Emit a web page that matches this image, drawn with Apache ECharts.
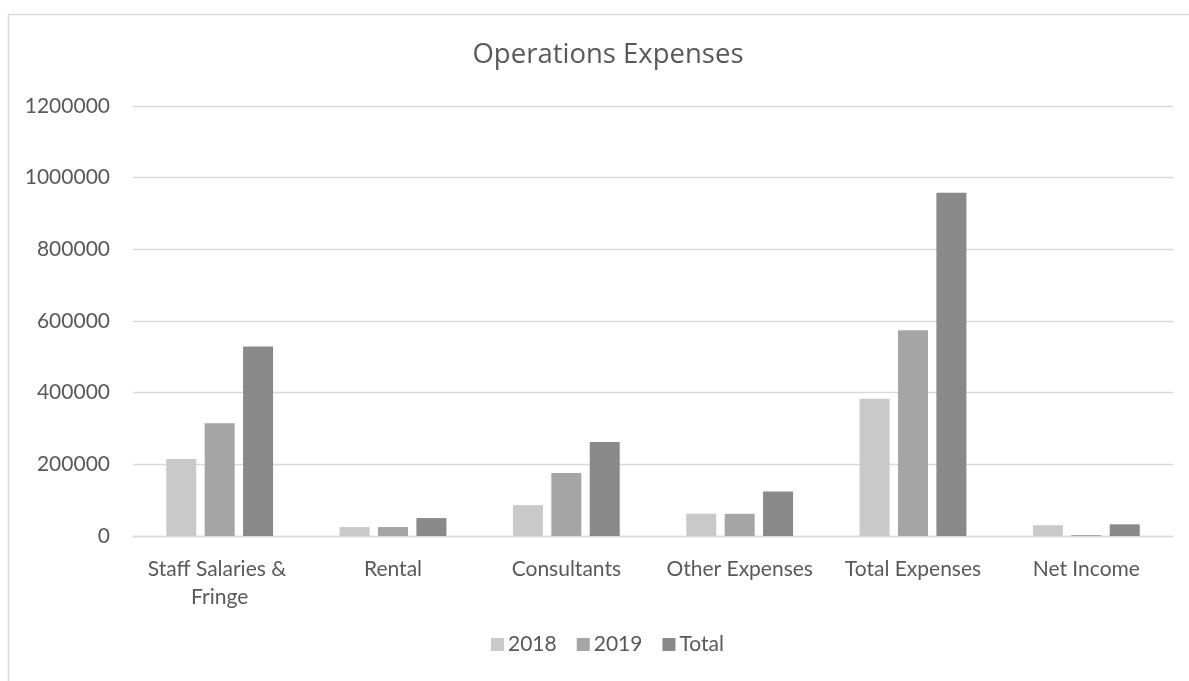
<!DOCTYPE html>
<html>
<head>
<meta charset="utf-8">
<script src="https://cdn.jsdelivr.net/npm/echarts@6/dist/echarts.min.js"></script>
<style>
  html, body { margin: 0; padding: 0; background: #fff; }
  #chart { width: 1189px; height: 681px; }
</style>
</head>
<body>
<div id="chart"></div>
<script>
// Expense categories and yearly amounts
const categories = ['Staff Salaries & Fringe', 'Rental', 'Consultants', 'Other Expenses', 'Total Expenses', 'Net Income'];
const values2018 = [215000, 25000, 86000, 62000, 383000, 30000];
const values2019 = [315000, 25000, 176000, 62000, 574000, 2600];
const valuesTotal = [529000, 50000, 262000, 124000, 958000, 32600];
const seriesNames = ['2018', '2019', 'Total'];
const seriesColors = ['#c9c9c9', '#a5a5a5', '#898989'];

const FONT = 'Lato, "Open Sans", sans-serif';
const TITLE_FONT = '"Open Sans", Lato, sans-serif';
const TEXT = '#595959';

const chart = echarts.init(document.getElementById('chart'), null, { renderer: 'canvas' });

const seriesData = [values2018, values2019, valuesTotal];

chart.setOption({
  backgroundColor: '#ffffff',
  animation: false,
  title: {
    text: 'Operations Expenses',
    left: 603,
    textAlign: 'center',
    top: 36,
    textStyle: { fontFamily: TITLE_FONT, fontSize: 27.5, fontWeight: 'normal', color: TEXT }
  },
  legend: {
    data: seriesNames,
    bottom: 21,
    left: 486,
    itemWidth: 13,
    itemHeight: 13,
    itemGap: 20,
    icon: 'rect',
    textStyle: { fontFamily: FONT, fontSize: 21, color: TEXT, padding: [0, 0, 0, -1] }
  },
  grid: { left: 133, right: 16, top: 106, bottom: 145, containLabel: false },
  xAxis: {
    type: 'category',
    data: categories,
    axisLine: { lineStyle: { color: '#d9d9d9', width: 1.3 } },
    axisTick: { show: false },
    axisLabel: {
      fontFamily: FONT,
      fontSize: 21,
      color: TEXT,
      margin: 19,
      lineHeight: 28,
      interval: 0,
      width: 165,
      overflow: 'break'
    }
  },
  yAxis: {
    type: 'value',
    min: 0,
    max: 1200000,
    interval: 200000,
    axisLine: { show: false },
    axisTick: { show: false },
    splitLine: { lineStyle: { color: '#d9d9d9', width: 1.3 } },
    axisLabel: {
      fontFamily: FONT,
      fontSize: 21,
      color: TEXT,
      margin: 23,
      formatter: (v) => String(v)
    }
  },
  series: seriesNames.map((name, i) => ({
    name: name,
    type: 'bar',
    data: seriesData[i],
    barWidth: 30,
    barGap: '28%',
    itemStyle: { color: seriesColors[i] }
  })),
  graphic: [{
    type: 'polyline',
    shape: { points: [[8.5, 681], [8.5, 14.5], [1189, 14.5]] },
    style: { stroke: '#d9d9d9', lineWidth: 1.5, fill: null },
    silent: true
  }]
});
</script>
</body>
</html>
